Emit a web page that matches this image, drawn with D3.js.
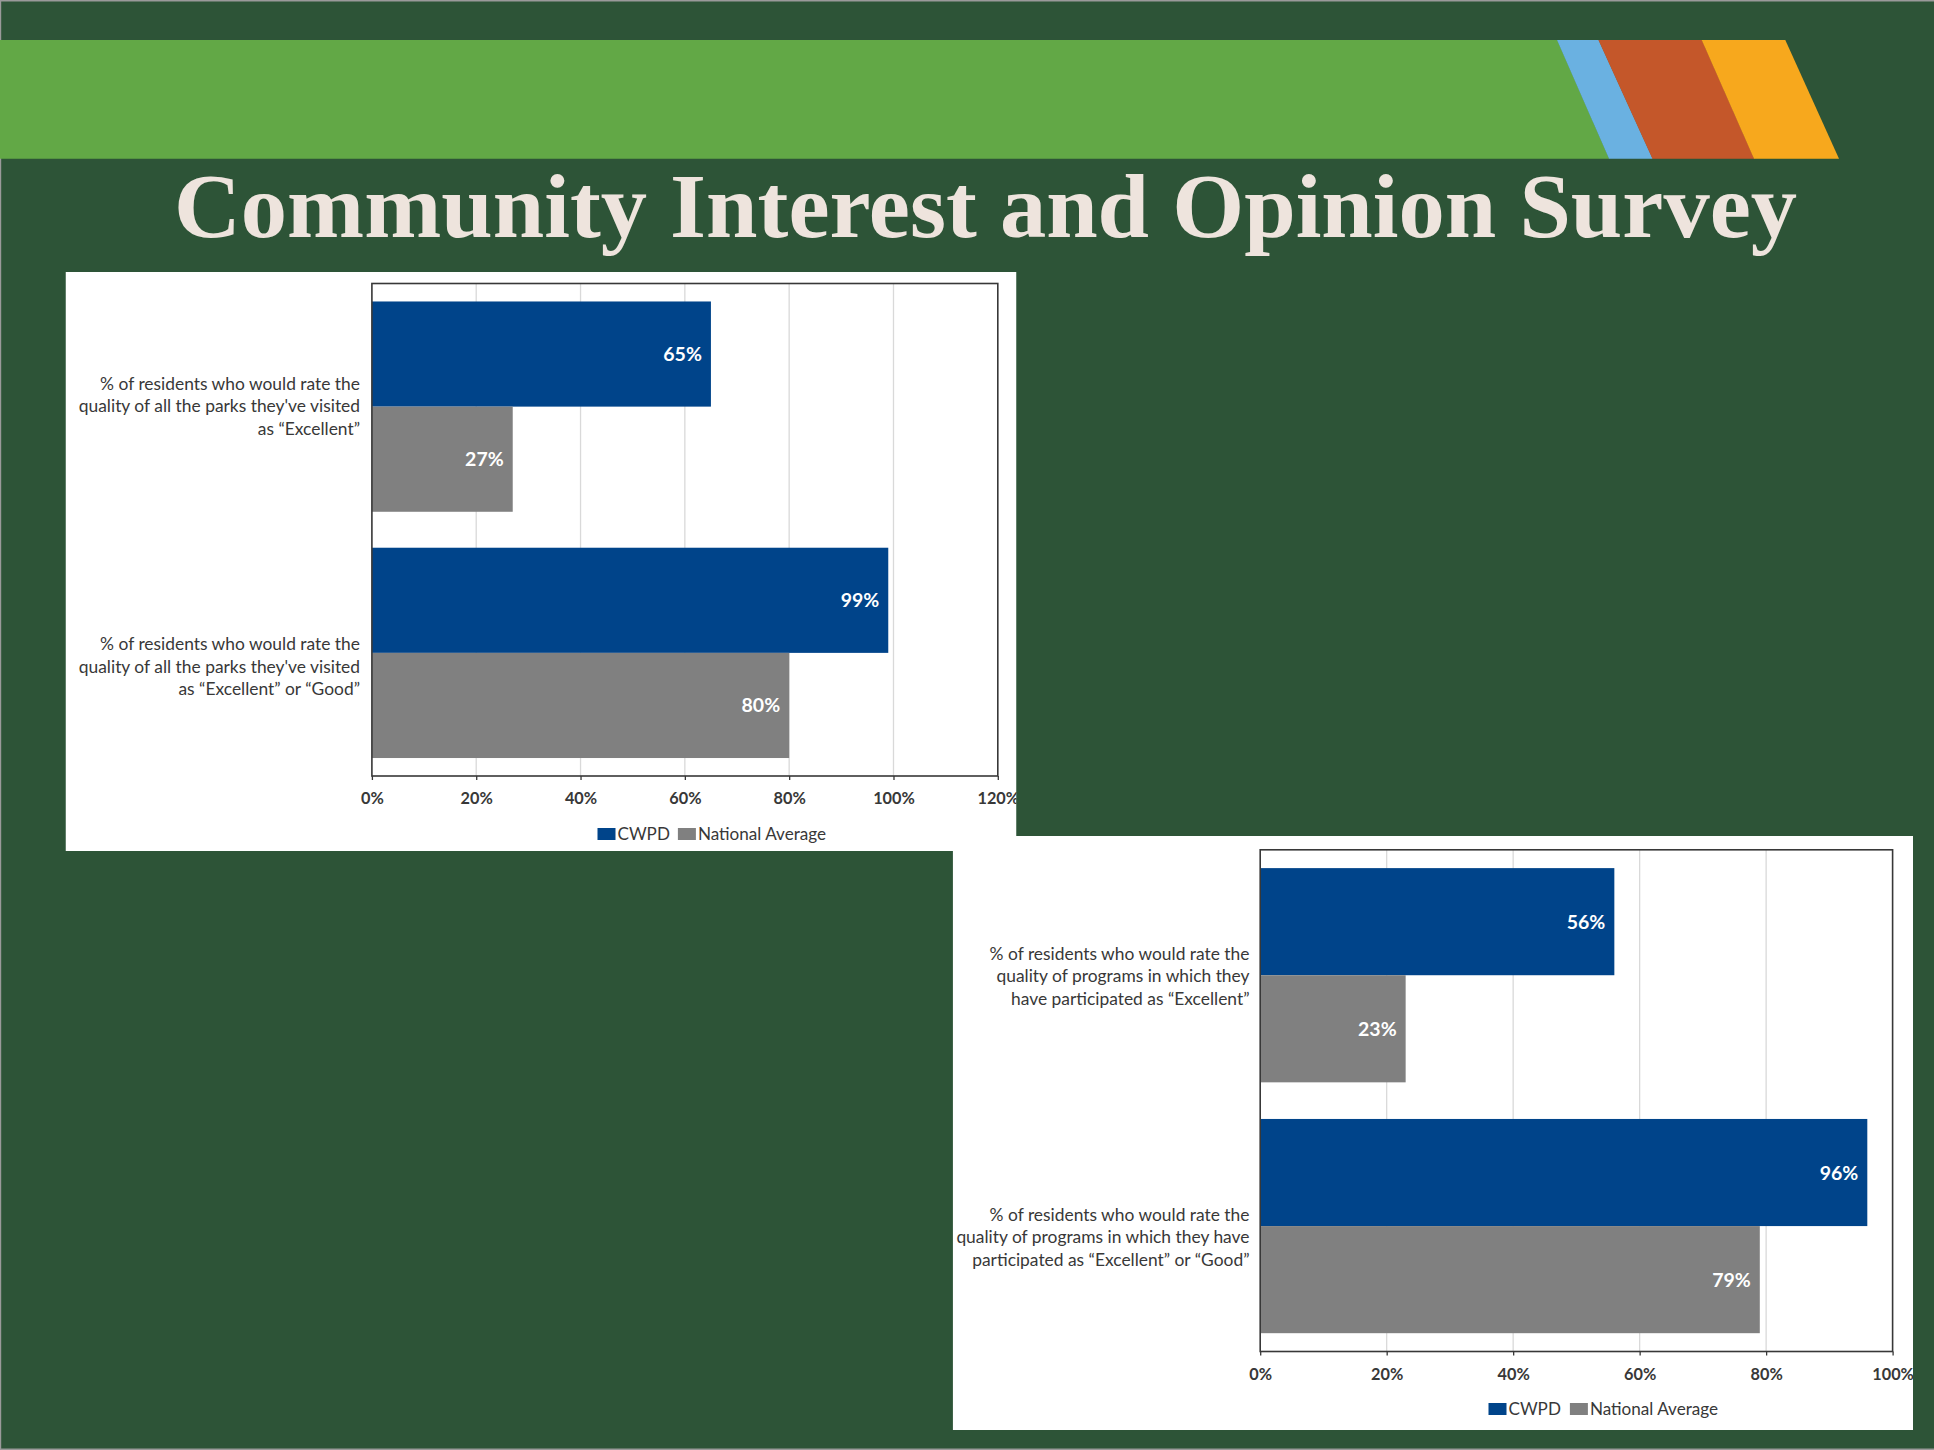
<!DOCTYPE html>
<html>
<head>
<meta charset="utf-8">
<script src="https://cdn.jsdelivr.net/npm/d3@7"></script>
<style>
  html, body { margin: 0; padding: 0; background: #2D5437; }
  svg { display: block; }
</style>
</head>
<body>
<script>
// ---------------- DATA ----------------
const seriesNames = ["CWPD", "National Average"];

const categories1 = [
  ["% of residents who would rate the", "quality of all the parks they've visited", "as “Excellent”"],
  ["% of residents who would rate the", "quality of all the parks they've visited", "as “Excellent” or “Good”"]
];
const cwpd1 = [65, 99];
const national1 = [27, 80];
const ticks1 = [0, 20, 40, 60, 80, 100, 120];

const categories2 = [
  ["% of residents who would rate the", "quality of programs in which they", "have participated as “Excellent”"],
  ["% of residents who would rate the", "quality of programs in which they have", "participated as “Excellent” or “Good”"]
];
const cwpd2 = [56, 96];
const national2 = [23, 79];
const ticks2 = [0, 20, 40, 60, 80, 100];

const titleText = "Community Interest and Opinion Survey";

// ---------------- STYLE / LAYOUT ----------------
const W = 1934, H = 1450;
const colors = { bg: "#2D5437", band: "#62A846", blue: "#6AB1E1", red: "#C4572A", yellow: "#F7A81D",
  title: "#EEE4DD", cwpd: "#00448A", nat: "#808080", grid: "#D9D9D9", text: "#383838", axis: "#383838" };

const svg = d3.select("body").append("svg").attr("width", W).attr("height", H);

// background + thin screenshot border
svg.append("rect").attr("width", W).attr("height", H).attr("fill", colors.bg);
svg.append("rect").attr("x", 0).attr("y", 0).attr("width", W).attr("height", 1.5).attr("fill", "#9A9A9A");
svg.append("rect").attr("x", 0).attr("y", 0).attr("width", 1.2).attr("height", H).attr("fill", "#9A9A9A");
svg.append("rect").attr("x", 0).attr("y", H - 1.5).attr("width", W).attr("height", 1.5).attr("fill", "#9A9A9A");

// header band with slanted stripes
const bandTop = 40, bandBot = 158.7;
const stripeTop = [1557.3, 1598.7, 1702, 1785.3];
const stripeBot = [1609.3, 1652.7, 1754.3, 1839];
const poly = (xs) => xs.map(p => p.join(",")).join(" ");
svg.append("polygon").attr("fill", colors.band)
  .attr("points", poly([[0, bandTop], [stripeTop[0], bandTop], [stripeBot[0], bandBot], [0, bandBot]]));
[colors.blue, colors.red, colors.yellow].forEach((c, i) => {
  svg.append("polygon").attr("fill", c)
    .attr("points", poly([[stripeTop[i] - 0.3, bandTop], [stripeTop[i + 1], bandTop], [stripeBot[i + 1], bandBot], [stripeBot[i] - 0.3, bandBot]]));
});

// title
svg.append("text")
  .attr("x", 174).attr("y", 237)
  .attr("textLength", 1623).attr("lengthAdjust", "spacingAndGlyphs")
  .attr("font-family", "'Liberation Serif', 'DejaVu Serif', serif")
  .attr("font-weight", "bold").attr("font-size", 91)
  .attr("fill", colors.title)
  .text(titleText);

// ---------------- CHART FUNCTION ----------------
function drawChart(cfg) {
  const { id, panel, plot, cats, s1, s2, ticks, maxV, labelRight, labelOffsets, lineH, legendX, legendBase, legendGap } = cfg;

  const clipId = "clip-" + id;
  svg.append("clipPath").attr("id", clipId).append("rect")
    .attr("x", panel.x).attr("y", panel.y).attr("width", panel.w).attr("height", panel.h);

  const g = svg.append("g").attr("clip-path", `url(#${clipId})`);
  g.append("rect").attr("x", panel.x).attr("y", panel.y).attr("width", panel.w).attr("height", panel.h).attr("fill", "#FFFFFF");

  const x = d3.scaleLinear().domain([0, maxV]).range([plot.x0, plot.x1]);
  const yCat = d3.scaleBand().domain(d3.range(cats.length)).range([plot.y0, plot.y1])
    .paddingInner(0.146).paddingOuter(0.073);
  const ySer = d3.scaleBand().domain([0, 1]).range([0, yCat.bandwidth()]);

  // gridlines
  g.append("g").selectAll("line").data(ticks.slice(1, -1)).join("line")
    .attr("x1", d => x(d)).attr("x2", d => x(d))
    .attr("y1", plot.y0).attr("y2", plot.y1)
    .attr("stroke", colors.grid).attr("stroke-width", 1.3);

  // bars
  const rows = [];
  cats.forEach((c, i) => {
    rows.push({ cat: i, s: 0, v: s1[i] });
    rows.push({ cat: i, s: 1, v: s2[i] });
  });
  g.append("g").selectAll("rect").data(rows).join("rect")
    .attr("x", x(0))
    .attr("y", d => yCat(d.cat) + ySer(d.s))
    .attr("width", d => x(d.v) - x(0))
    .attr("height", ySer.bandwidth())
    .attr("fill", d => d.s === 0 ? colors.cwpd : colors.nat);

  // bar value labels
  g.append("g").selectAll("text").data(rows).join("text")
    .attr("x", d => x(d.v) - 9)
    .attr("y", d => yCat(d.cat) + ySer(d.s) + ySer.bandwidth() / 2)
    .attr("dy", "0.36em")
    .attr("text-anchor", "end")
    .attr("font-family", "Lato, 'Open Sans', sans-serif")
    .attr("font-weight", "bold").attr("font-size", 19.5)
    .attr("fill", "#FFFFFF")
    .text(d => d.v + "%");

  // plot border box
  g.append("rect").attr("x", plot.x0).attr("y", plot.y0)
    .attr("width", plot.x1 - plot.x0).attr("height", plot.y1 - plot.y0)
    .attr("fill", "none").attr("stroke", colors.axis).attr("stroke-width", 1.6);

  // x axis
  const xAxis = d3.axisBottom(x).tickValues(ticks).tickFormat(d => d + "%").tickSize(4).tickPadding(0);
  const ax = g.append("g").attr("transform", `translate(0,${plot.y1})`).call(xAxis);
  ax.select(".domain").remove();
  ax.selectAll(".tick line").attr("stroke", colors.axis).attr("stroke-width", 1.3);
  ax.selectAll(".tick text")
    .attr("y", 28).attr("dy", 0)
    .attr("font-family", "Lato, 'Open Sans', sans-serif")
    .attr("font-weight", "bold").attr("font-size", 16.3)
    .attr("fill", colors.text);

  // category labels
  const lg = g.append("g");
  cats.forEach((lines, i) => {
    const cy = yCat(i) + yCat.bandwidth() / 2 + labelOffsets[i];
    const t = lg.append("text")
      .attr("text-anchor", "end")
      .attr("font-family", "Lato, 'Open Sans', sans-serif")
      .attr("font-size", 17.4)
      .attr("fill", colors.text);
    lines.forEach((ln, j) => {
      t.append("tspan").attr("x", labelRight)
        .attr("y", cy + (j - (lines.length - 1) / 2) * lineH)
        .attr("dy", "0.33em")
        .text(ln);
    });
  });

  // legend
  const leg = g.append("g");
  let cx = legendX;
  seriesNames.forEach((name, i) => {
    leg.append("rect").attr("x", cx).attr("y", legendBase - 12)
      .attr("width", 18).attr("height", 12)
      .attr("fill", i === 0 ? colors.cwpd : colors.nat);
    cx += 20;
    const t = leg.append("text").attr("x", cx).attr("y", legendBase)
      .attr("font-family", "Lato, 'Open Sans', sans-serif")
      .attr("font-size", 17.1).attr("fill", colors.text)
      .text(name);
    cx += t.node().getComputedTextLength() + legendGap;
  });
}

drawChart({
  id: "c1",
  panel: { x: 65.5, y: 272, w: 951, h: 579 },
  plot: { x0: 371.9, x1: 997.8, y0: 283.5, y1: 776 },
  cats: categories1, s1: cwpd1, s2: national1, ticks: ticks1, maxV: 120,
  labelRight: 360, labelOffsets: [0, 14], lineH: 22.3,
  legendX: 597.5, legendBase: 840, legendGap: 8
});

drawChart({
  id: "c2",
  panel: { x: 952.7, y: 836, w: 960.3, h: 594 },
  plot: { x0: 1260.2, x1: 1892.6, y0: 849.8, y1: 1351.5 },
  cats: categories2, s1: cwpd2, s2: national2, ticks: ticks2, maxV: 100,
  labelRight: 1249.5, labelOffsets: [1.5, 11.5], lineH: 22.8,
  legendX: 1488.5, legendBase: 1415, legendGap: 9
});
</script>
</body>
</html>
